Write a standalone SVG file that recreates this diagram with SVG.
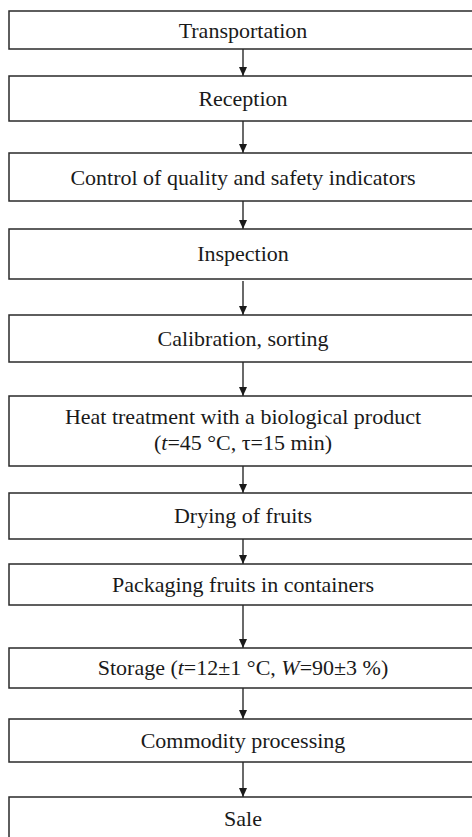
<svg xmlns="http://www.w3.org/2000/svg" width="472" height="837" viewBox="0 0 472 837">
<defs>
<marker id="ah" markerWidth="10" markerHeight="10" refX="9" refY="4" orient="auto" markerUnits="userSpaceOnUse">
<path d="M0,0 L9,4 L0,8 Z" fill="#1a1a1a"/>
</marker>
<style>
.box{fill:#fff;stroke:#2a2a2a;stroke-width:1.5}
.lbl{font-family:"Liberation Serif","Times New Roman","DejaVu Serif",serif;font-size:22px;fill:#1a1a1a;text-anchor:middle}
.con{stroke:#1a1a1a;stroke-width:1.3;fill:none;marker-end:url(#ah)}
</style>
</defs>
<rect width="472" height="837" fill="#fff"/>
<g id="connectors">
<line class="con" x1="243" y1="49" x2="243" y2="76"/>
<line class="con" x1="243" y1="121" x2="243" y2="153"/>
<line class="con" x1="243" y1="201" x2="243" y2="229"/>
<line class="con" x1="243" y1="281" x2="243" y2="315"/>
<line class="con" x1="243" y1="362" x2="243" y2="396"/>
<line class="con" x1="243" y1="466" x2="243" y2="493"/>
<line class="con" x1="243" y1="539" x2="243" y2="564"/>
<line class="con" x1="243" y1="605" x2="243" y2="648"/>
<line class="con" x1="243" y1="688" x2="243" y2="719"/>
<line class="con" x1="243" y1="762" x2="243" y2="797"/>
</g>
<g id="n1"><rect class="box" x="9" y="11" width="470" height="38"/><text class="lbl" x="243" y="38">Transportation</text></g>
<g id="n2"><rect class="box" x="9" y="76" width="470" height="45"/><text class="lbl" x="243" y="106">Reception</text></g>
<g id="n3"><rect class="box" x="9" y="153" width="470" height="48"/><text class="lbl" x="243" y="185">Control of quality and safety indicators</text></g>
<g id="n4"><rect class="box" x="9" y="229" width="470" height="50"/><text class="lbl" x="243" y="261">Inspection</text></g>
<g id="n5"><rect class="box" x="9" y="315" width="470" height="47"/><text class="lbl" x="243" y="346">Calibration, sorting</text></g>
<g id="n6"><rect class="box" x="9" y="396" width="470" height="70"/><text class="lbl" x="243" y="424">Heat treatment with a biological product</text><text class="lbl" x="243" y="450">(<tspan font-style="italic">t</tspan>=45 °C, τ=15 min)</text></g>
<g id="n7"><rect class="box" x="9" y="493" width="470" height="46"/><text class="lbl" x="243" y="523">Drying of fruits</text></g>
<g id="n8"><rect class="box" x="9" y="564" width="470" height="41"/><text class="lbl" x="243" y="592">Packaging fruits in containers</text></g>
<g id="n9"><rect class="box" x="9" y="648" width="470" height="40"/><text class="lbl" x="243" y="675">Storage (<tspan font-style="italic">t</tspan>=12±1 °C, <tspan font-style="italic">W</tspan>=90±3 %)</text></g>
<g id="n10"><rect class="box" x="9" y="719" width="470" height="43"/><text class="lbl" x="243" y="748">Commodity processing</text></g>
<g id="n11"><rect class="box" x="9" y="797" width="470" height="50"/><text class="lbl" x="243" y="826">Sale</text></g>
</svg>
